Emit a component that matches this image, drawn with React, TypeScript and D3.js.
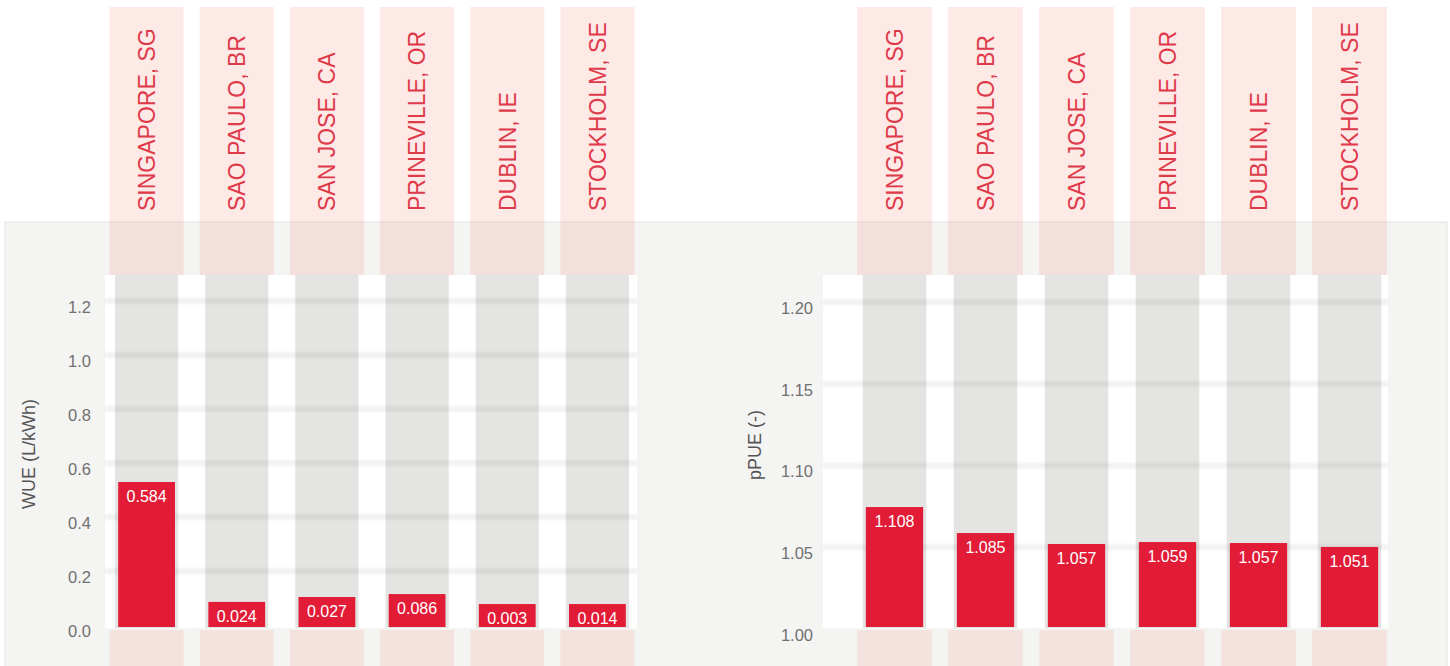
import React from 'react';
import * as d3 from 'd3';

// ---- data ----
const sites = ['SINGAPORE, SG', 'SAO PAULO, BR', 'SAN JOSE, CA', 'PRINEVILLE, OR', 'DUBLIN, IE', 'STOCKHOLM, SE'];
// printed value labels
const wueLabels = ['0.584', '0.024', '0.027', '0.086', '0.003', '0.014'];
const pueLabels = ['1.108', '1.085', '1.057', '1.059', '1.057', '1.051'];
// bar heights as drawn in the picture (read against each axis)
const wueBars = [0.537, 0.093, 0.111, 0.122, 0.085, 0.085];
const pueBars = [1.0758, 1.0599, 1.0532, 1.0544, 1.0538, 1.0514];
// axis ticks
const wueTicks = [0, 0.2, 0.4, 0.6, 0.8, 1.0, 1.2];
const pueTicks = [1.0, 1.05, 1.1, 1.15, 1.2];

const FONT = '"Liberation Sans", Arial, Helvetica, sans-serif';
const RED = '#e21c37';
const TEXT_RED = '#de3a4a';

type PanelProps = {
  bandRange: [number, number];
  plotX0: number;
  plotX1: number;
  yDomain: [number, number];
  yRange: [number, number];
  ticks: number[];
  fmt: (v: number) => string;
  tickX: number;
  title: string;
  titleX: number;
  titleY: number;
  bars: number[];
  labels: string[];
};

const PLOT_TOP = 275;
const PLOT_BOTTOM = 628;

function Panel(p: PanelProps) {
  const x = d3.scaleBand<string>().domain(sites).range(p.bandRange).padding(0);
  const y = d3.scaleLinear().domain(p.yDomain).range(p.yRange);
  const step = x.step();
  const pinkW = step * 0.82;
  const grayW = step * 0.7;
  const barW = step * 0.63;
  return (
    <g>
      <rect x={p.plotX0} y={PLOT_TOP} width={p.plotX1 - p.plotX0} height={PLOT_BOTTOM - PLOT_TOP} fill="#ffffff" />
      {sites.map((s) => {
        const cx = (x(s) as number) + step / 2;
        return <rect key={'g' + s} x={cx - grayW / 2} y={PLOT_TOP} width={grayW} height={PLOT_BOTTOM - PLOT_TOP} fill="#e4e4e3" />;
      })}
      <g filter="url(#soft)">
        {p.ticks.slice(1).map((t) => (
          <line key={'gl' + t} x1={p.plotX0} x2={p.plotX1} y1={y(t) - 2} y2={y(t) - 2} stroke="rgba(0,0,0,0.05)" strokeWidth={6} />
        ))}
      </g>
      {sites.map((s) => {
        const cx = (x(s) as number) + step / 2;
        return (
          <g key={'p' + s}>
            <rect x={cx - pinkW / 2} y={7} width={pinkW} height={PLOT_TOP - 7} fill="#f06a55" fillOpacity={0.15} />
            <rect x={cx - pinkW / 2} y={630} width={pinkW} height={40} fill="#f06a55" fillOpacity={0.13} />
            <text
              transform={`translate(${cx + 8.3},211) rotate(-90)`}
              fontSize={23}
              fontFamily={FONT}
              fill={TEXT_RED}
              textAnchor="start"
            >
              {s}
            </text>
          </g>
        );
      })}
      {sites.map((s, i) => {
        const cx = (x(s) as number) + step / 2;
        const top = y(p.bars[i]);
        return (
          <g key={'b' + s}>
            <rect x={cx - barW / 2} y={top} width={barW} height={PLOT_BOTTOM - 1 - top} fill={RED} />
            <text x={cx} y={top + 20} textAnchor="middle" fontSize={16} fontFamily={FONT} fill="#ffffff">
              {p.labels[i]}
            </text>
          </g>
        );
      })}
      {p.ticks.map((t) => (
        <text key={'t' + t} x={p.tickX} y={y(t) + 4} dy="0.35em" textAnchor="end" fontSize={16.5} fontFamily={FONT} fill="#707070">
          {p.fmt(t)}
        </text>
      ))}
      <text
        transform={`translate(${p.titleX},${p.titleY}) rotate(-90)`}
        textAnchor="middle"
        fontSize={18}
        fontFamily={FONT}
        fill="#555555"
      >
        {p.title}
      </text>
    </g>
  );
}

export default function App() {
  return (
    <svg
      width={1450}
      height={666}
      viewBox="0 0 1450 666"
      style={{ position: 'absolute', left: 0, top: 0, display: 'block', background: '#ffffff' }}
    >
      <defs>
        <filter id="soft" x="-5%" y="-50%" width="110%" height="200%">
          <feGaussianBlur stdDeviation="1.2" />
        </filter>
      </defs>
      <rect x={5} y={222} width={1442} height={460} fill="#f4f4f2" stroke="#e3e3e1" strokeWidth={1} />
      <Panel
        bandRange={[101.5, 642.5]}
        plotX0={105}
        plotX1={637}
        yDomain={[0, 1.2]}
        yRange={[627, 303]}
        ticks={wueTicks}
        fmt={d3.format('.1f')}
        tickX={91}
        title="WUE (L/kWh)"
        titleX={35}
        titleY={454}
        bars={wueBars}
        labels={wueLabels}
      />
      <Panel
        bandRange={[849, 1395]}
        plotX0={823}
        plotX1={1388}
        yDomain={[1.0, 1.2]}
        yRange={[631, 304]}
        ticks={pueTicks}
        fmt={d3.format('.2f')}
        tickX={813}
        title="pPUE (-)"
        titleX={761}
        titleY={445}
        bars={pueBars}
        labels={pueLabels}
      />
    </svg>
  );
}
